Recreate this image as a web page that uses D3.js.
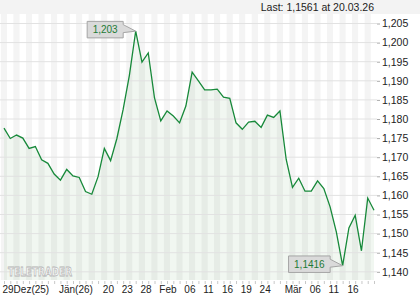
<!DOCTYPE html>
<html>
<head>
<meta charset="utf-8">
<script src="https://cdn.jsdelivr.net/npm/d3@7"></script>
<style>
  html, body { margin: 0; padding: 0; background: #fff; }
  svg { display: block; font-family: Arial, "Liberation Sans", sans-serif; }
</style>
</head>
<body>
<div id="chart"></div>
<script>
// daily closes, 29.12.25 .. 20.03.26 (one per weekday)
const closes = [
  1.1776, 1.1749, 1.1758, 1.1750, 1.1723, 1.1728, 1.1693, 1.1684, 1.1656, 1.1640,
  1.1668, 1.1651, 1.1647, 1.1610, 1.1603, 1.1649, 1.1723, 1.1691, 1.1749, 1.1825,
  1.1915, 1.2030, 1.1949, 1.1973, 1.1855, 1.1795, 1.1821, 1.1808, 1.1790, 1.1834,
  1.1923, 1.1900, 1.1876, 1.1876, 1.1878, 1.1857, 1.1854, 1.1790, 1.1773, 1.1792,
  1.1794, 1.1778, 1.1810, 1.1804, 1.1821, 1.1694, 1.1621, 1.1645, 1.1611, 1.1611,
  1.1638, 1.1618, 1.1570, 1.1504, 1.1416, 1.1515, 1.1548, 1.1455, 1.1593, 1.1561
];
const tickIdx    = [0, 9, 16, 19, 22, 25, 29, 32, 35, 38, 41, 45, 49, 52, 55];
const tickLabels = ["29Dez(25)", "Jän(26)", "20", "23", "28", "Feb", "06", "11", "16", "19", "24", "Mär", "06", "11", "16"];
const yTicks = [1.140, 1.145, 1.150, 1.155, 1.160, 1.165, 1.170, 1.175, 1.180, 1.185, 1.190, 1.195, 1.200, 1.205];
const lastText = "Last: 1,1561 at 20.03.26";

const W = 420, H = 300;
const plotL = 0, plotR = 377, plotT = 14, plotB = 280;

const comma = s => s.replace(".", ",");
const fmtAxis = d => comma(d3.format(".3f")(d));
const fmtVal = d => comma(d3.format(".4~f")(d));

const x = d3.scaleLinear().domain([0, closes.length - 1]).range([4, 374]);
const y = d3.scaleLinear().domain([1.140, 1.205]).range([271.8, 23.5]);
const step = x(1) - x(0);

const svg = d3.select("#chart").append("svg")
    .attr("width", W)
    .attr("height", H);

// header band
svg.append("rect")
    .attr("x", 0).attr("y", 0)
    .attr("width", W).attr("height", plotT)
    .attr("fill", "#f3f3f3");

svg.append("text")
    .attr("x", 374).attr("y", 11)
    .attr("text-anchor", "end")
    .attr("font-size", 10.5)
    .attr("fill", "#222")
    .text(lastText);

// day stripes
svg.append("g").selectAll("rect")
    .data(closes).enter()
  .append("rect")
    .attr("x", (d, i) => Math.max(plotL, x(i) - step / 2))
    .attr("y", plotT)
    .attr("width", (d, i) => Math.min(plotR, x(i) + step / 2) - Math.max(plotL, x(i) - step / 2))
    .attr("height", plotB - plotT)
    .attr("fill", (d, i) => i % 2 == 0 ? "#f4f4f4" : "#ffffff");

// area under the line
const area = d3.area()
    .x((d, i) => x(i))
    .y0(plotB)
    .y1(d => y(d));

svg.append("path")
    .datum(closes)
    .attr("d", area)
    .attr("fill", "#3f8f3f")
    .attr("fill-opacity", 0.07);

// horizontal grid
svg.append("g").selectAll("line")
    .data(yTicks).enter()
  .append("line")
    .attr("x1", plotL).attr("x2", plotR)
    .attr("y1", d => y(d)).attr("y2", d => y(d))
    .attr("stroke", "#e2e2e2")
    .attr("stroke-width", 1);

// watermark
svg.append("text")
    .attr("x", 8).attr("y", 276)
    .attr("font-family", "DejaVu Sans")
    .attr("font-weight", "bold")
    .attr("font-size", 13)
    .attr("textLength", 64)
    .attr("lengthAdjust", "spacingAndGlyphs")
    .attr("fill", "#fbfbfb")
    .attr("stroke", "#b4b4b4")
    .attr("stroke-width", 0.8)
    .text("TELETRADER");

// price line
const line = d3.line()
    .x((d, i) => x(i))
    .y(d => y(d));

svg.append("path")
    .datum(closes)
    .attr("d", line)
    .attr("fill", "none")
    .attr("stroke", "#17893a")
    .attr("stroke-width", 1.3);

// right axis
const yAxis = svg.append("g")
    .attr("transform", `translate(${plotR},0)`)
    .call(d3.axisRight(y).tickValues(yTicks).tickSize(3).tickPadding(2).tickFormat(fmtAxis));
yAxis.select(".domain").remove();
yAxis.selectAll("line").attr("stroke", "#aaa");
yAxis.selectAll("text")
    .attr("font-size", 10.5)
    .attr("font-family", "Arial, 'Liberation Sans', sans-serif")
    .attr("fill", "#222");

// bottom axis: day ticks
const dayAxis = svg.append("g")
    .attr("transform", `translate(0,${plotB + 1})`)
    .call(d3.axisBottom(x).tickValues(d3.range(closes.length)).tickSize(3).tickFormat(""));
dayAxis.select(".domain").remove();
dayAxis.selectAll("line").attr("stroke", "#c8c8c8");

// bottom axis: labels
const labAxis = svg.append("g")
    .attr("transform", `translate(0,${plotB})`)
    .call(d3.axisBottom(x).tickValues(tickIdx).tickSize(0).tickPadding(0)
        .tickFormat((d, i) => tickLabels[i]));
labAxis.select(".domain").remove();
labAxis.selectAll("text")
    .attr("text-anchor", "start")
    .attr("dx", -2)
    .attr("y", 13)
    .attr("dy", 0)
    .attr("font-size", 10)
    .attr("font-family", "Arial, 'Liberation Sans', sans-serif")
    .attr("fill", "#222");

// high / low callouts
function callout(i) {
    const px = x(i), py = y(closes[i]);
    const g = svg.append("g");
    const t = g.append("text")
        .attr("font-size", 10)
        .attr("fill", "#1d7a35")
        .text(fmtVal(closes[i]));
    const tw = t.node().getComputedTextLength();
    const bw = tw + 11, bh = 16.5;
    const right = px - 12.5, left = right - bw;
    const cy = py - 1.5, top = cy - bh / 2;
    g.insert("path", "text")
        .attr("d", `M${left},${top}H${right}V${cy - 5}L${px},${py}L${right},${cy + 3}V${top + bh}H${left}Z`)
        .attr("fill", "#dadada")
        .attr("stroke", "#a5a5a5")
        .attr("stroke-width", 1);
    t.attr("x", left + 5.5).attr("y", cy + 3.8);
}
callout(d3.maxIndex(closes));
callout(d3.minIndex(closes));
</script>
</body>
</html>
